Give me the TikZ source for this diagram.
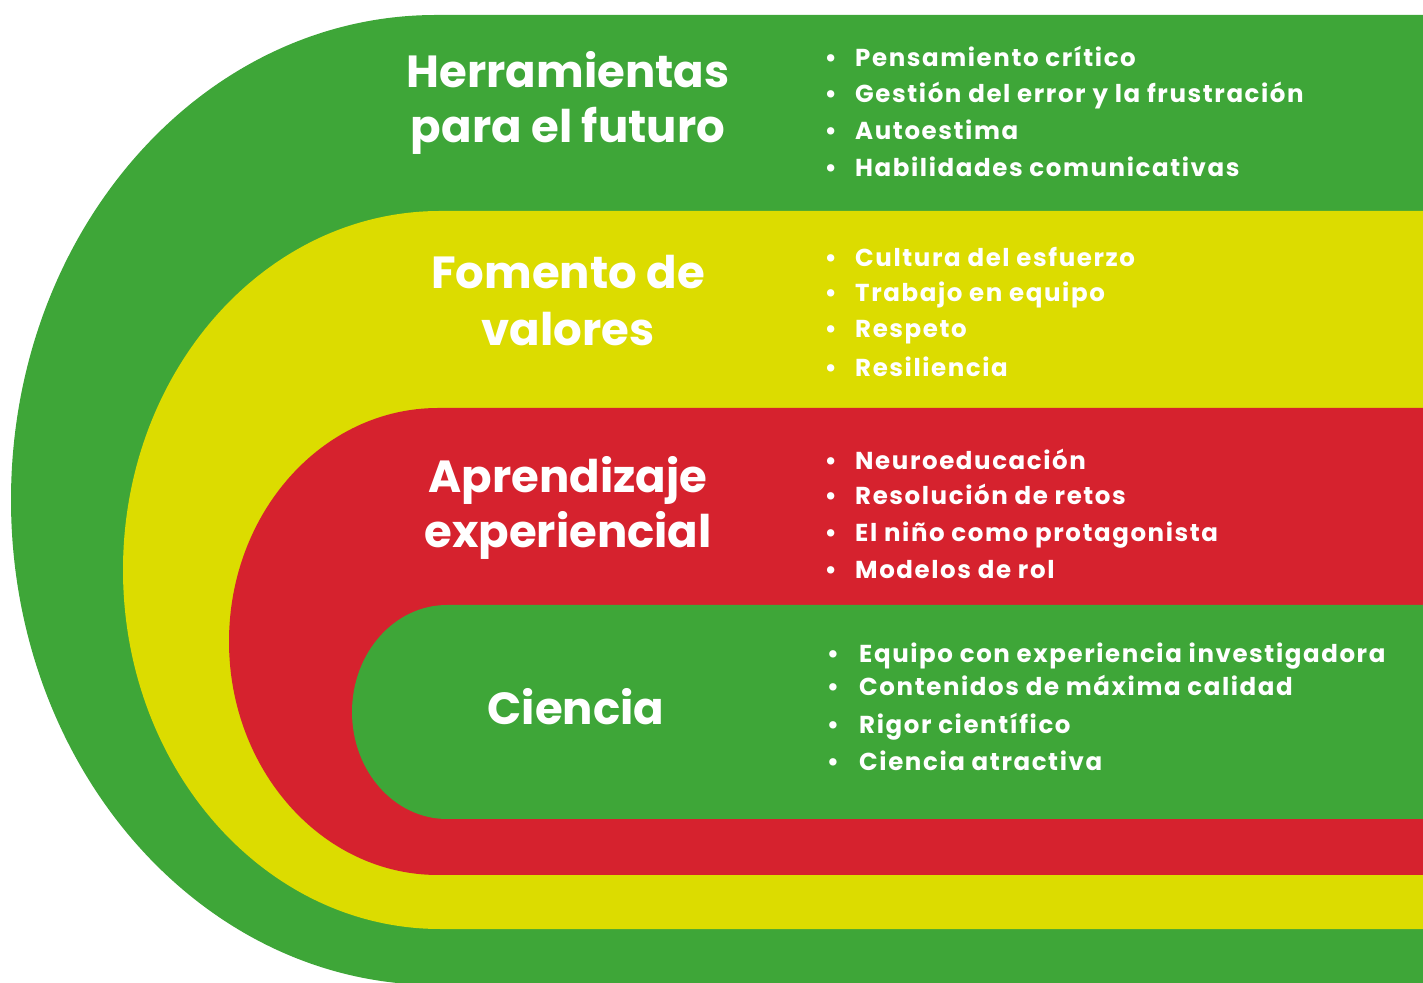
\documentclass[tikz,border=0pt]{standalone}
\usepackage{fontspec}
\setmainfont{Poppins}
\definecolor{bandgreen}{RGB}{62,166,56}
\definecolor{bandyellow}{RGB}{220,220,0}
\definecolor{bandred}{RGB}{214,34,46}
\begin{document}
\begin{tikzpicture}[x=1pt,y=1pt,
  ttl/.style={text=white,font=\fontsize{45}{54}\selectfont\bfseries,anchor=base,inner sep=0pt},
  itm/.style={text=white,font=\fontsize{24.5}{30}\selectfont\bfseries\addfontfeature{LetterSpace=6.5},anchor=base west,inner sep=0pt},
  bul/.style={text=white,font=\fontsize{24.5}{30}\selectfont\bfseries,anchor=base,inner sep=0pt}]
\useasboundingbox (0,0) rectangle (1423,982);
\clip (0,0) rectangle (1423,982);
% bands
\fill[bandgreen] (1423,967) -- (436,967) arc[start angle=90,end angle=270,x radius=425,y radius=485] -- (1423,-3) -- cycle;
\fill[bandyellow] (1423,771) -- (440,771) arc[start angle=90,end angle=270,x radius=317,y radius=359] -- (1423,53) -- cycle;
\fill[bandred] (1423,574) -- (438,574) arc[start angle=90,end angle=270,x radius=209,y radius=233.5] -- (1423,107) -- cycle;
\fill[bandgreen] (1423,377) -- (447,377) arc[start angle=90,end angle=270,x radius=95,y radius=107] -- (1423,163) -- cycle;
% titles
\node[ttl] (t1a) at (568,894) {Herramientas};
\node[ttl] (t1b) at (568,839) {para el futuro};
\node[ttl] (t2a) at (568,693) {Fomento de};
\node[ttl] (t2b) at (568,636) {valores};
\node[ttl] (t3a) at (568,489) {Aprendizaje};
\node[ttl] (t3b) at (568,434) {experiencial};
\node[ttl] (t4a) at (576,257) {Ciencia};
% list 1
\foreach \yy/\txt [count=\i] in {915.3/Pensamiento crítico,879.3/Gestión del error y la frustración,842.7/Autoestima,805.3/Habilidades comunicativas}{
  \node[bul] (b1\i) at (830.7,\yy) {•};
  \node[itm] (i1\i) at (855,\yy) {\txt};
}
% list 2
\foreach \yy/\txt [count=\i] in {715.3/Cultura del esfuerzo,680.3/Trabajo en equipo,644/Respeto,605.3/Resiliencia}{
  \node[bul] (b2\i) at (830.7,\yy) {•};
  \node[itm] (i2\i) at (855,\yy) {\txt};
}
% list 3
\foreach \yy/\txt [count=\i] in {512.3/Neuroeducación,477.3/Resolución de retos,440.3/El niño como protagonista,403.3/Modelos de rol}{
  \node[bul] (b3\i) at (830.7,\yy) {•};
  \node[itm] (i3\i) at (855,\yy) {\txt};
}
% list 4
\foreach \yy/\txt [count=\i] in {319/Equipo con experiencia investigadora,286/Contenidos de máxima calidad,248/Rigor científico,211/Ciencia atractiva}{
  \node[bul] (b4\i) at (833,\yy) {•};
  \node[itm] (i4\i) at (859,\yy) {\txt};
}
\end{tikzpicture}
\end{document}
